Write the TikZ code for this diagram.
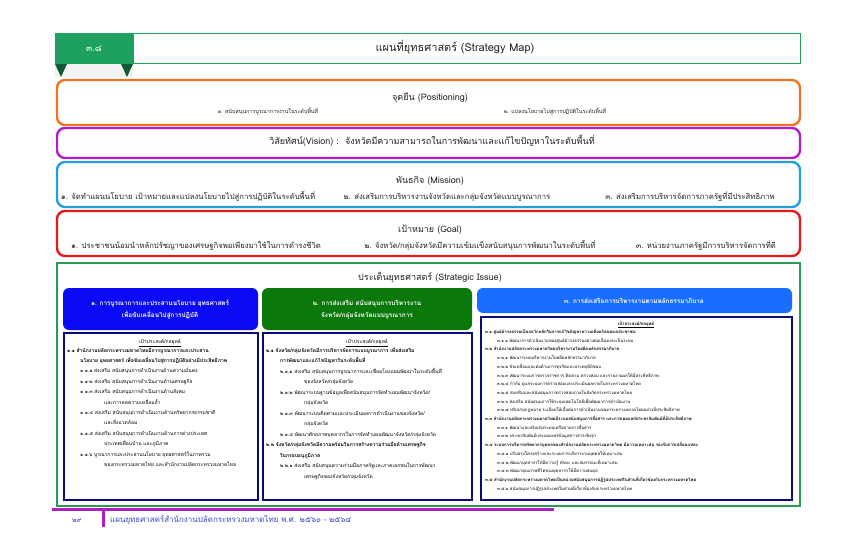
\documentclass[tikz,border=0pt]{standalone}
\usepackage{fontspec}
\setmainfont[Script=Thai]{Loma}
\definecolor{hgreen}{RGB}{30,160,95}
\definecolor{hdkgreen}{RGB}{15,90,50}
\definecolor{porange}{RGB}{240,115,35}
\definecolor{vpurple}{RGB}{175,30,200}
\definecolor{mcyan}{RGB}{35,160,220}
\definecolor{gred}{RGB}{230,25,30}
\definecolor{sgreen}{RGB}{40,155,85}
\definecolor{sblue}{RGB}{10,10,245}
\definecolor{sdgreen}{RGB}{10,120,10}
\definecolor{sazure}{RGB}{25,110,255}
\definecolor{snavy}{RGB}{10,10,120}
\definecolor{ftext}{RGB}{60,70,200}
\definecolor{txtgray}{RGB}{35,35,35}
\newcommand{\fsTitle}{\fontsize{11}{13}\selectfont}
\newcommand{\fsBand}{\fontsize{9}{11}\selectfont}
\newcommand{\fsItem}{\fontsize{7.7}{9}\selectfont}
\newcommand{\fsPos}{\fontsize{5.4}{6}\selectfont}
\newcommand{\fsHd}{\bfseries\fontsize{6.4}{7}\selectfont}
\newcommand{\fsCol}{\fontsize{5.0}{6}\selectfont}
\newcommand{\fsColR}{\fontsize{4.3}{5}\selectfont}
\tikzset{
  band/.style={line width=2.4pt, rounded corners=8pt},
  ctext/.style={inner sep=0pt, anchor=base, text=txtgray},
  hdtext/.style={inner sep=0pt, anchor=base, text=white, font=\fsHd},
  ln/.style={inner sep=0pt, anchor=base west, text=black, font=\fsCol},
  lnb/.style={ln, font=\fsCol\bfseries},
  lr/.style={inner sep=0pt, anchor=base west, text=black, font=\fsColR},
  lrb/.style={lr, font=\fsColR\bfseries},
}
\begin{document}
\begin{tikzpicture}[x=1pt,y=-1pt]
\useasboundingbox (0,0) rectangle (849,559);
\fill[white] (0,0) rectangle (849,559);

% ---------- header ----------
\fill[gray!10] (55,64) rectangle (133,77);
\fill[hdkgreen] (55,64) -- (67,64) -- (61,77) -- cycle;
\fill[hdkgreen] (121,64) -- (133,64) -- (127,77) -- cycle;
\fill[hgreen] (55,33) rectangle (133,64);
\draw[hgreen, line width=1pt] (133,33.5) rectangle (800,63.5);
\node[inner sep=0pt, anchor=base, text=white, font=\fsBand] (tabno) at (94,52) {๓.๘};
\node[ctext, font=\fsTitle] (title) at (455,52) {แผนที่ยุทธศาสตร์ (Strategy Map)};

% ---------- positioning ----------
\draw[band, porange] (57,80) rectangle (800,125);
\node[ctext, font=\fsBand] (pos) at (430,101) {จุดยืน (Positioning)};
\node[ctext, font=\fsPos] (pos1) at (268,114) {๑. สนับสนุนการบูรณาการงานในระดับพื้นที่};
\node[ctext, font=\fsPos] (pos2) at (555,114) {๒. แปลงนโยบายไปสู่การปฏิบัติในระดับพื้นที่};

% ---------- vision ----------
\draw[band, vpurple] (57,128) rectangle (800,158);
\node[ctext, font=\fsBand] (vision) at (432,145) {วิสัยทัศน์(Vision) :\ \ จังหวัดมีความสามารถในการพัฒนาและแก้ไขปัญหาในระดับพื้นที่};

% ---------- mission ----------
\draw[band, mcyan] (57,162) rectangle (800,207);
\node[ctext, font=\fsBand] (mission) at (430,183) {พันธกิจ (Mission)};
\node[ctext, font=\fsItem] (mis1) at (188,199) {๑. จัดทำแผนนโยบาย เป้าหมายและแปลงนโยบายไปสู่การปฏิบัติในระดับพื้นที่};
\node[ctext, font=\fsItem] (mis2) at (447,199) {๒. ส่งเสริมการบริหารงานจังหวัดและกลุ่มจังหวัดแบบบูรณาการ};
\node[ctext, font=\fsItem] (mis3) at (690,199) {๓. ส่งเสริมการบริหารจัดการภาครัฐที่มีประสิทธิภาพ};

% ---------- goal ----------
\draw[band, gred] (57,211) rectangle (800,256);
\node[ctext, font=\fsBand] (goal) at (430,232) {เป้าหมาย (Goal)};
\node[ctext, font=\fsItem] (goal1) at (196,248) {๑. ประชาชนน้อมนำหลักปรัชญาของเศรษฐกิจพอเพียงมาใช้ในการดำรงชีวิต};
\node[ctext, font=\fsItem] (goal2) at (480,248) {๒. จังหวัด/กลุ่มจังหวัดมีความเข้มแข็งสนับสนุนการพัฒนาในระดับพื้นที่};
\node[ctext, font=\fsItem] (goal3) at (706,248) {๓. หน่วยงานภาครัฐมีการบริหารจัดการที่ดี};

% ---------- strategic issue ----------
\draw[sgreen, line width=2.4pt] (57,263) rectangle (800,506);
\node[ctext, font=\fsBand] (issue) at (430,280) {ประเด็นยุทธศาสตร์ (Strategic Issue)};

\fill[sblue, rounded corners=6pt] (63,288) rectangle (258,330);
\node[hdtext] (s1a) at (160,305) {๑. การบูรณาการและประสานนโยบาย ยุทธศาสตร์};
\node[hdtext] (s1b) at (160,317) {เพื่อขับเคลื่อนไปสู่การปฏิบัติ};
\fill[sdgreen, rounded corners=6pt] (262,288) rectangle (472,330);
\node[hdtext] (s2a) at (367,305) {๒. การส่งเสริม สนับสนุนการบริหารงาน};
\node[hdtext] (s2b) at (367,317) {จังหวัด/กลุ่มจังหวัดแบบบูรณาการ};
\fill[sazure, rounded corners=6pt] (477,288) rectangle (792,313);
\node[hdtext] (s3a) at (634,303) {๓. การส่งเสริมการบริหารงานตามหลักธรรมาภิบาล};

\draw[snavy, line width=1.2pt] (64,333) rectangle (258,500);
\draw[snavy, line width=1.2pt] (263,333) rectangle (472,500);
\draw[snavy, line width=1.2pt] (481,317) rectangle (792,500);

% left column
\node[ctext, text=black, font=\fsCol] (h1) at (160,343) {\underline{เป้าประสงค์/กลยุทธ์}};
\node[lnb] (a1) at (67,352) {๑.๑ สำนักงานปลัดกระทรวงมหาดไทยมีการบูรณาการและประสาน};
\node[lnb] (a2) at (80,362.4) {นโยบาย ยุทธศาสตร์ เพื่อขับเคลื่อนไปสู่การปฏิบัติอย่างมีประสิทธิภาพ};
\node[ln] (a3) at (80,372.8) {๑.๑.๑ ส่งเสริม สนับสนุนการดำเนินงานด้านความมั่นคง};
\node[ln] (a4) at (80,383.2) {๑.๑.๒ ส่งเสริม สนับสนุนการดำเนินงานด้านเศรษฐกิจ};
\node[ln] (a5) at (80,393.6) {๑.๑.๓ ส่งเสริม สนับสนุนการดำเนินงานด้านสังคม};
\node[ln] (a6) at (104,404) {และการลดความเหลื่อมล้ำ};
\node[ln] (a7) at (80,414.4) {๑.๑.๔ ส่งเสริม สนับสนุนการดำเนินงานด้านทรัพยากรธรรมชาติ};
\node[ln] (a8) at (104,424.8) {และสิ่งแวดล้อม};
\node[ln] (a9) at (80,435.2) {๑.๑.๕ ส่งเสริม สนับสนุนการดำเนินงานด้านการต่างประเทศ};
\node[ln] (a10) at (104,445.6) {ประเทศเพื่อนบ้าน และภูมิภาค};
\node[ln] (a11) at (80,456) {๑.๑.๖ บูรณาการและประสานนโยบาย ยุทธศาสตร์ในภาพรวม};
\node[ln] (a12) at (104,466.4) {ของกระทรวงมหาดไทย และสำนักงานปลัดกระทรวงมหาดไทย};

% middle column
\node[ctext, text=black, font=\fsCol] (h2) at (367,343) {\underline{เป้าประสงค์/กลยุทธ์}};
\node[lnb] (b1) at (266,352) {๒.๑ จังหวัด/กลุ่มจังหวัดมีการบริหารจัดการแบบบูรณาการ เพื่อส่งเสริม};
\node[lnb] (b2) at (280,362.5) {การพัฒนาและแก้ไขปัญหาในระดับพื้นที่};
\node[ln] (b3) at (280,373) {๒.๑.๑ ส่งเสริม สนับสนุนการบูรณาการและเชื่อมโยงแผนพัฒนาในระดับพื้นที่};
\node[ln] (b4) at (304,383.5) {ของจังหวัด/กลุ่มจังหวัด};
\node[ln] (b5) at (280,394) {๒.๑.๒ พัฒนาระบบฐานข้อมูลเพื่อสนับสนุนการจัดทำแผนพัฒนาจังหวัด/};
\node[ln] (b6) at (304,404.5) {กลุ่มจังหวัด};
\node[ln] (b7) at (280,415) {๒.๑.๓ พัฒนาระบบติดตามและประเมินผลการดำเนินงานของจังหวัด/};
\node[ln] (b8) at (304,425.5) {กลุ่มจังหวัด};
\node[ln] (b9) at (280,436) {๒.๑.๔ พัฒนาศักยภาพบุคลากรในการจัดทำแผนพัฒนาจังหวัด/กลุ่มจังหวัด};
\node[lnb] (b10) at (266,446.5) {๒.๒ จังหวัด/กลุ่มจังหวัดมีความพร้อมในการสร้างความร่วมมือด้านเศรษฐกิจ};
\node[lnb] (b11) at (280,457) {ในกรอบอนุภูมิภาค};
\node[ln] (b12) at (280,467.5) {๒.๒.๑ ส่งเสริม สนับสนุนความร่วมมือภาครัฐและภาคเอกชนในการพัฒนา};
\node[ln] (b13) at (304,478) {เศรษฐกิจของจังหวัด/กลุ่มจังหวัด};

% right column
\node[ctext, text=black, font=\fsColR\bfseries] (h3) at (636,325) {\underline{เป้าประสงค์/กลยุทธ์}};
\node[lrb] (c1) at (485,333.5) {๓.๑ ศูนย์ดำรงธรรมเป็นกลไกหลักในการแก้ไขปัญหาความเดือดร้อนของประชาชน};
\node[lr] (c2) at (497,342.2) {๓.๑.๑ พัฒนาการดำเนินงานของศูนย์ดำรงธรรมอย่างต่อเนื่องและเป็นระบบ};
\node[lrb] (c3) at (485,350.9) {๓.๒ สำนักงานปลัดกระทรวงมหาดไทยบริหารงานโดยยึดหลักธรรมาภิบาล};
\node[lr] (c4) at (497,359.6) {๓.๒.๑ พัฒนาระบบบริหารงานโดยยึดหลักธรรมาภิบาล};
\node[lr] (c5) at (497,368.3) {๓.๒.๒ ขับเคลื่อนและต่อต้านการทุจริตและประพฤติมิชอบ};
\node[lr] (c6) at (497,377) {๓.๒.๓ พัฒนาระบบการตรวจราชการ ติดตาม ตรวจสอบ และรายงานผลให้มีประสิทธิภาพ};
\node[lr] (c7) at (497,385.7) {๓.๒.๔ กำกับ ดูแลระบบการตรวจสอบและประเมินผลภายในกระทรวงมหาดไทย};
\node[lr] (c8) at (497,394.4) {๓.๒.๕ ส่งเสริมและสนับสนุนการตรวจสอบภายในสังกัดกระทรวงมหาดไทย};
\node[lr] (c9) at (497,403.1) {๓.๒.๖ ส่งเสริม สนับสนุนการใช้ระบบเทคโนโลยีเพื่อพัฒนาการดำเนินงาน};
\node[lr] (c10) at (497,411.8) {๓.๒.๗ ปรับปรุงกฎหมาย ระเบียบให้เอื้อต่อการดำเนินงานของกระทรวงมหาดไทยอย่างมีประสิทธิภาพ};
\node[lrb] (c11) at (485,420.5) {๓.๓ สำนักงานปลัดกระทรวงมหาดไทยมีระบบสนับสนุนการสื่อสาร และการเผยแพร่ประชาสัมพันธ์ที่มีประสิทธิภาพ};
\node[lr] (c12) at (497,429.2) {๓.๓.๑ พัฒนาและปรับปรุงระบบเครือข่ายการสื่อสาร};
\node[lr] (c13) at (497,437.9) {๓.๓.๒ ประชาสัมพันธ์และเผยแพร่ข้อมูลข่าวสารเชิงรุก};
\node[lrb] (c14) at (485,446.6) {๓.๔ ระบบการบริหารทรัพยากรบุคคลของสำนักงานปลัดกระทรวงมหาดไทย มีความเหมาะสม รองรับการเปลี่ยนแปลง};
\node[lr] (c15) at (497,455.3) {๓.๔.๑ ปรับปรุงโครงสร้างและระบบการบริหารงานบุคคลให้เหมาะสม};
\node[lr] (c16) at (497,464) {๓.๔.๒ พัฒนาบุคลากรให้มีความรู้ ทักษะ และสมรรถนะที่เหมาะสม};
\node[lr] (c17) at (497,472.7) {๓.๔.๓ พัฒนาคุณภาพชีวิตของบุคลากรให้มีความสมดุล};
\node[lrb] (c18) at (485,481.4) {๓.๕ สำนักงานปลัดกระทรวงมหาดไทยเป็นหน่วยสนับสนุนการปฏิรูปประเทศในส่วนที่เกี่ยวข้องกับกระทรวงมหาดไทย};
\node[lr] (c19) at (497,490.1) {๓.๕.๑ สนับสนุนการปฏิรูปประเทศในส่วนที่เกี่ยวข้องกับกระทรวงมหาดไทย};

% ---------- footer ----------
\fill[vpurple] (52,508) rectangle (554,511);
\fill[vpurple] (102,508) rectangle (105,527);
\node[inner sep=0pt, anchor=base, text=ftext, font=\fontsize{7}{8}\selectfont] (page) at (77,522.5) {๒๙};
\node[inner sep=0pt, anchor=base west, text=ftext, font=\fontsize{8}{9}\selectfont] (foot) at (110,522.5) {แผนยุทธศาสตร์สำนักงานปลัดกระทรวงมหาดไทย พ.ศ. ๒๕๖๐ - ๒๕๖๔};
\end{tikzpicture}
\end{document}
